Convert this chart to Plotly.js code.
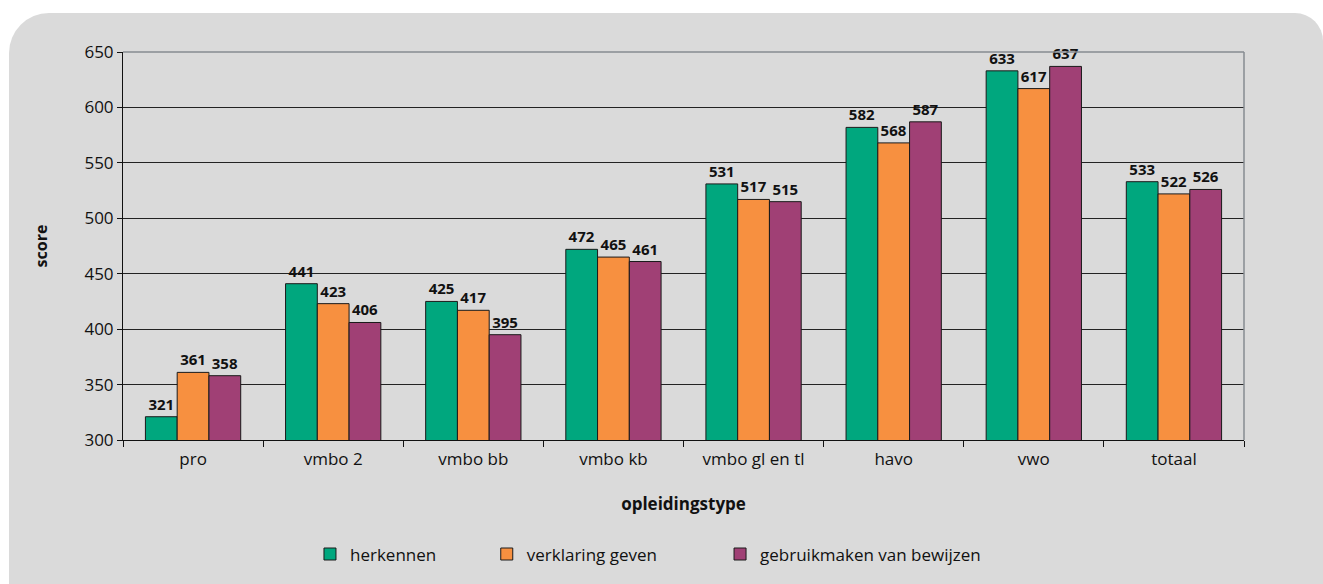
<!DOCTYPE html>
<html>
<head>
<meta charset="utf-8">
<script src="https://cdn.plot.ly/plotly-3.0.1.min.js"></script>
<style>
  html, body { margin:0; padding:0; background:#ffffff; overflow:hidden; }
  #panel { position:absolute; left:9px; top:13px; width:1314px; height:600px; background:#dadada; border-top-left-radius:40px; border-top-right-radius:28px; }
  #chart { position:absolute; left:0; top:0; width:1323px; height:584px; }
</style>
</head>
<body>
<div id="panel"></div>
<div id="chart"></div>
<script>
const categories = ["pro", "vmbo 2", "vmbo bb", "vmbo kb", "vmbo gl en tl", "havo", "vwo", "totaal"];
const seriesNames = ["herkennen", "verklaring geven", "gebruikmaken van bewijzen"];
const herkennen = [321, 441, 425, 472, 531, 582, 633, 533];
const verklaringGeven = [361, 423, 417, 465, 517, 568, 617, 522];
const gebruikmakenVanBewijzen = [358, 406, 395, 461, 515, 587, 637, 526];
const yTicks = [300, 350, 400, 450, 500, 550, 600, 650];

const colors = ["#00a77e", "#f79040", "#a04075"];
const FONT = "Open Sans, Noto Sans, sans-serif";
const allSeries = [herkennen, verklaringGeven, gebruikmakenVanBewijzen];
const legendIds = ["legend", "legend2", "legend3"];

const traces = allSeries.map((vals, i) => ({
  type: "bar",
  name: seriesNames[i],
  legend: legendIds[i],
  x: categories,
  y: vals,
  marker: { color: colors[i], line: { color: "#1a1a1a", width: 1 } },
  text: vals.map(String),
  textposition: "outside",
  textangle: 0,
  constraintext: "none",
  cliponaxis: false,
  textfont: { family: FONT, size: 15, color: "#111111", weight: "bold" },
  hoverinfo: "x+y+name"
}));

function mkLegend(x) {
  return {
    orientation: "h", x: x, xanchor: "left", y: -0.295, yanchor: "middle",
    font: { family: FONT, size: 17, color: "#111111" },
    bgcolor: "rgba(0,0,0,0)"
  };
}

const layout = {
  width: 1323,
  height: 584,
  paper_bgcolor: "rgba(0,0,0,0)",
  plot_bgcolor: "rgba(0,0,0,0)",
  margin: { l: 123, r: 79, t: 52, b: 142 },
  barmode: "group",
  bargap: 0.32,
  bargroupgap: 0,
  font: { family: FONT, color: "#111111", size: 17 },
  showlegend: true,
  legend: mkLegend(0.1668),
  legend2: mkLegend(0.3245),
  legend3: mkLegend(0.5326),
  xaxis: {
    type: "category",
    tickson: "boundaries",
    ticks: "outside", ticklen: 6, tickcolor: "#111111", tickwidth: 1,
    showline: true, linecolor: "#111111", linewidth: 1,
    showgrid: false,
    ticklabelstandoff: 4,
    tickfont: { family: FONT, size: 17, color: "#111111" },
    title: { text: "opleidingstype", font: { family: FONT, size: 17, color: "#111111", weight: "bold" }, standoff: 28 },
    automargin: true
  },
  yaxis: {
    range: [300, 650],
    tickvals: yTicks,
    ticktext: yTicks.map(String),
    ticks: "outside", ticklen: 5, tickcolor: "#111111", tickwidth: 1,
    showline: true, linecolor: "#111111", linewidth: 1,
    showgrid: true, gridcolor: "#222222", gridwidth: 1,
    zeroline: false,
    tickfont: { family: FONT, size: 17, color: "#111111" },
    title: { text: "score", font: { family: FONT, size: 16, color: "#111111", weight: "bold" }, standoff: 32 },
    automargin: true
  },
  shapes: [
    { type: "line", xref: "paper", yref: "paper", x0: 0, x1: 1, y0: 1, y1: 1, line: { color: "#868b90", width: 1.5 }, layer: "above" },
    { type: "line", xref: "paper", yref: "paper", x0: 1, x1: 1, y0: 0, y1: 1, line: { color: "#868b90", width: 1.5 }, layer: "above" }
  ]
};

Plotly.newPlot("chart", traces, layout, { displayModeBar: false, staticPlot: true });
</script>
</body>
</html>
